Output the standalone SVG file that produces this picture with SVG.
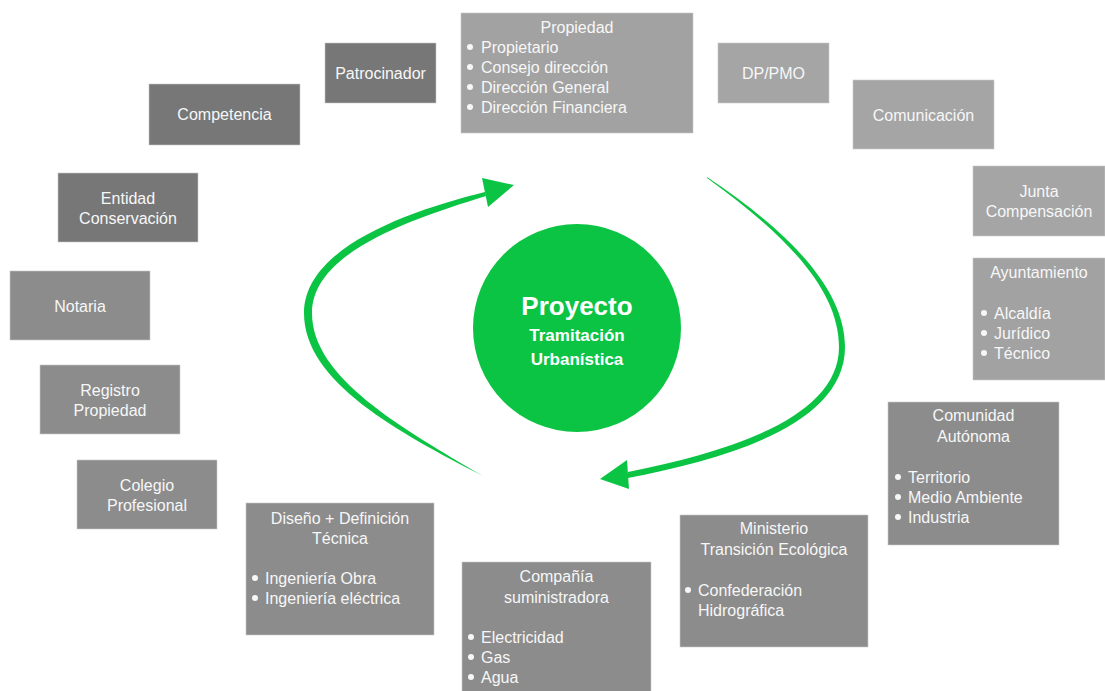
<svg xmlns="http://www.w3.org/2000/svg" width="1105" height="691" viewBox="0 0 1105 691">
<style>
.box{stroke:#c8c8c8;stroke-width:0.6}
.dark{fill:#777777}
.mid{fill:#8c8c8c}
.light{fill:#a5a5a5}
.t{font-family:"Liberation Sans",Arial,sans-serif;font-size:16px;fill:#f7f7f7}
.c{text-anchor:middle}
.dot{fill:#f7f7f7}
.g{fill:#0cc444}
.ct{font-family:"Liberation Sans",Arial,sans-serif;font-weight:bold;fill:#ffffff;text-anchor:middle}
</style>
<rect width="1105" height="691" fill="#ffffff"/>

<g id="connectors">
<path class="g" d="M483,476 C398,432 304,382 304,313 C304,248 408,211 485,192 L486,196 C412,219 312,252 312,313 C312,378 402,428 483,476 Z"/>
<polygon class="g" points="482,178 514,185 488,207"/>
<path class="g" d="M707,177 C791,233 845,290 845,347 C845,423 732,458 628,478 L628,472 C728,452 839,418 839,347 C839,291 789,237 707,178 Z"/>
<polygon class="g" points="600,479 627,460 629,489"/>
</g>

<g id="proyecto">
<circle class="g" cx="577" cy="328" r="104"/>
<text class="ct" x="577" y="315" font-size="26">Proyecto</text>
<text class="ct" x="577" y="341" font-size="17">Tramitación</text>
<text class="ct" x="577" y="365" font-size="17">Urbanística</text>
</g>

<g id="propiedad">
<rect class="box light" x="461" y="13" width="232" height="120" fill="#a2a2a2" style="fill:#a2a2a2"/>
<text class="t c" x="577" y="33">Propiedad</text>
<circle class="dot" cx="470" cy="47" r="3"/><text class="t" x="481" y="53">Propietario</text>
<circle class="dot" cx="470" cy="67" r="3"/><text class="t" x="481" y="73">Consejo dirección</text>
<circle class="dot" cx="470" cy="87" r="3"/><text class="t" x="481" y="93">Dirección General</text>
<circle class="dot" cx="470" cy="107" r="3"/><text class="t" x="481" y="113">Dirección Financiera</text>
</g>

<g id="patrocinador">
<rect class="box dark" x="325" y="43" width="111" height="60"/>
<text class="t c" x="380.5" y="79">Patrocinador</text>
</g>

<g id="dppmo">
<rect class="box light" x="718" y="43" width="111" height="60"/>
<text class="t c" x="773.5" y="79">DP/PMO</text>
</g>

<g id="competencia">
<rect class="box dark" x="149" y="84" width="151" height="61"/>
<text class="t c" x="224.5" y="120">Competencia</text>
</g>

<g id="comunicacion">
<rect class="box light" x="853" y="80" width="141" height="69"/>
<text class="t c" x="923.5" y="121">Comunicación</text>
</g>

<g id="entidad">
<rect class="box dark" x="58" y="173" width="140" height="69"/>
<text class="t c" x="128" y="204">Entidad</text>
<text class="t c" x="128" y="224">Conservación</text>
</g>

<g id="junta">
<rect class="box light" x="973" y="166" width="132" height="70"/>
<text class="t c" x="1039" y="197">Junta</text>
<text class="t c" x="1039" y="217">Compensación</text>
</g>

<g id="notaria">
<rect class="box mid" x="10" y="271" width="140" height="69"/>
<text class="t c" x="80" y="312">Notaria</text>
</g>

<g id="ayuntamiento">
<rect class="box light" x="973" y="258" width="132" height="122" style="fill:#a2a2a2"/>
<text class="t c" x="1039" y="278">Ayuntamiento</text>
<circle class="dot" cx="984" cy="313" r="3"/><text class="t" x="994" y="319">Alcaldía</text>
<circle class="dot" cx="984" cy="333" r="3"/><text class="t" x="994" y="339">Jurídico</text>
<circle class="dot" cx="984" cy="353" r="3"/><text class="t" x="994" y="359">Técnico</text>
</g>

<g id="registro">
<rect class="box mid" x="40" y="365" width="140" height="69"/>
<text class="t c" x="110" y="396">Registro</text>
<text class="t c" x="110" y="416">Propiedad</text>
</g>

<g id="comunidad">
<rect class="box mid" x="888" y="402" width="171" height="143"/>
<text class="t c" x="973.5" y="421">Comunidad</text>
<text class="t c" x="973.5" y="442">Autónoma</text>
<circle class="dot" cx="898" cy="477" r="3"/><text class="t" x="908" y="483">Territorio</text>
<circle class="dot" cx="898" cy="497" r="3"/><text class="t" x="908" y="503">Medio Ambiente</text>
<circle class="dot" cx="898" cy="517" r="3"/><text class="t" x="908" y="523">Industria</text>
</g>

<g id="colegio">
<rect class="box mid" x="77" y="460" width="140" height="69"/>
<text class="t c" x="147" y="491">Colegio</text>
<text class="t c" x="147" y="511">Profesional</text>
</g>

<g id="diseno">
<rect class="box mid" x="246" y="503" width="188" height="132"/>
<text class="t c" x="340" y="524">Diseño + Definición</text>
<text class="t c" x="340" y="544">Técnica</text>
<circle class="dot" cx="255" cy="578" r="3"/><text class="t" x="265" y="584">Ingeniería Obra</text>
<circle class="dot" cx="255" cy="598" r="3"/><text class="t" x="265" y="604">Ingeniería eléctrica</text>
</g>

<g id="ministerio">
<rect class="box mid" x="680" y="515" width="188" height="132"/>
<text class="t c" x="774" y="534">Ministerio</text>
<text class="t c" x="774" y="555">Transición Ecológica</text>
<circle class="dot" cx="688" cy="590" r="3"/><text class="t" x="698" y="596">Confederación</text>
<text class="t" x="698" y="616">Hidrográfica</text>
</g>

<g id="compania">
<rect class="box mid" x="462" y="562" width="189" height="132"/>
<text class="t c" x="556.5" y="582">Compañía</text>
<text class="t c" x="556.5" y="603">suministradora</text>
<circle class="dot" cx="471" cy="637" r="3"/><text class="t" x="481" y="643">Electricidad</text>
<circle class="dot" cx="471" cy="657" r="3"/><text class="t" x="481" y="663">Gas</text>
<circle class="dot" cx="471" cy="677" r="3"/><text class="t" x="481" y="683">Agua</text>
</g>
</svg>
